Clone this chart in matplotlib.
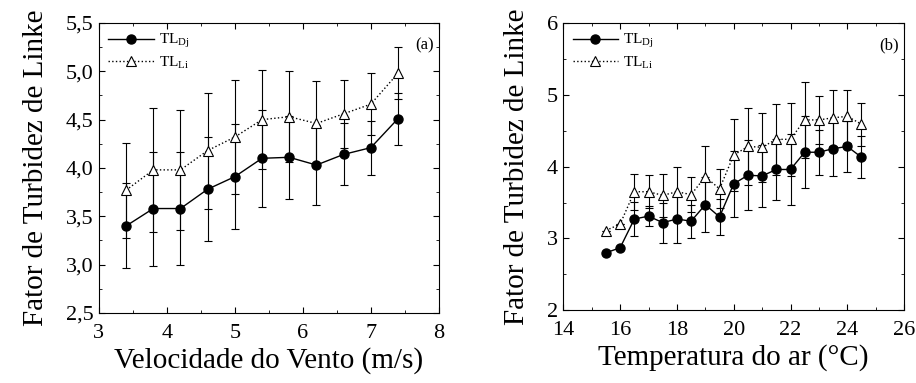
import numpy as np
import matplotlib.pyplot as plt
from matplotlib.ticker import MultipleLocator, FuncFormatter

plt.rcParams['font.family'] = ['Liberation Serif', 'DejaVu Serif']
plt.rcParams['mathtext.fontset'] = 'stix'

# (a) wind speed
vento = [3.4, 3.8, 4.2, 4.6, 5.0, 5.4, 5.8, 6.2, 6.6, 7.0, 7.4]
dj_a = [3.40, 3.58, 3.58, 3.78, 3.91, 4.10, 4.11, 4.03, 4.14, 4.21, 4.51]
dj_a_err = [0.44, 0.59, 0.58, 0.54, 0.54, 0.50, 0.43, 0.41, 0.32, 0.28, 0.27]
li_a = [3.77, 3.98, 3.98, 4.18, 4.32, 4.50, 4.53, 4.46, 4.56, 4.66, 4.98]
li_a_err = [0.49, 0.64, 0.62, 0.60, 0.59, 0.51, 0.47, 0.44, 0.35, 0.32, 0.27]

# (b) air temperature
temp = [15.5, 16.0, 16.5, 17.0, 17.5, 18.0, 18.5, 19.0, 19.5, 20.0,
        20.5, 21.0, 21.5, 22.0, 22.5, 23.0, 23.5, 24.0, 24.5]
dj_b = [2.80, 2.87, 3.27, 3.31, 3.22, 3.27, 3.24, 3.47, 3.30, 3.76,
        3.88, 3.87, 3.96, 3.96, 4.20, 4.20, 4.25, 4.28, 4.13]
dj_b_err = [0, 0, 0.24, 0.14, 0.28, 0.33, 0.23, 0.38, 0.25, 0.46,
            0.49, 0.43, 0.43, 0.49, 0.50, 0.31, 0.38, 0.35, 0.29]
li_b = [3.11, 3.20, 3.65, 3.65, 3.60, 3.65, 3.61, 3.86, 3.69, 4.16,
        4.28, 4.27, 4.38, 4.38, 4.65, 4.65, 4.68, 4.70, 4.59]
li_b_err = [0, 0, 0.25, 0.23, 0.30, 0.35, 0.24, 0.43, 0.27, 0.50,
            0.54, 0.48, 0.49, 0.51, 0.53, 0.33, 0.39, 0.37, 0.30]

ylabel = 'Fator de Turbidez de Linke'

fig = plt.figure(figsize=(9.16, 3.83), dpi=100)
ax1 = fig.add_axes([0.108, 0.183, 0.371, 0.757])
ax2 = fig.add_axes([0.615, 0.19, 0.372, 0.75])


def draw(ax, x, dj, dje, li, lie, tag):
    ax.errorbar(x, li, yerr=lie, fmt='none', ecolor='k', elinewidth=0.8,
                capsize=3, capthick=0.8)
    ax.errorbar(x, dj, yerr=dje, fmt='none', ecolor='k', elinewidth=0.8,
                capsize=3, capthick=0.8)
    ax.plot(x, dj, '-', color='k', lw=1, marker='o', ms=6.5,
            mfc='k', mec='k', label=r'TL$_{\mathregular{Dj}}$')
    ax.plot(x, li, ':', color='k', lw=1, marker='^', ms=7,
            mfc='white', mec='k', mew=0.8, label=r'TL$_{\mathregular{Li}}$')
    ax.legend(loc='upper left', frameon=False, fontsize=11, handlelength=3,
              borderaxespad=0.2, labelspacing=0.3, handletextpad=0.3)
    ax.text(0.985, 0.95, tag, transform=ax.transAxes, ha='right', va='top',
            fontsize=12)
    ax.tick_params(which='both', direction='in', top=True, right=True,
                   labelsize=16)
    ax.tick_params(axis='x', pad=8)
    ax.tick_params(axis='y', pad=4)
    ax.tick_params(which='major', length=4)
    ax.tick_params(which='minor', length=2.5)
    ax.set_ylabel(ylabel, fontsize=21, labelpad=12)


draw(ax1, vento, dj_a, dj_a_err, li_a, li_a_err, '(a)')
ax1.set_xlim(3, 8)
ax1.set_ylim(2.5, 5.5)
ax1.xaxis.set_major_locator(MultipleLocator(1))
ax1.xaxis.set_minor_locator(MultipleLocator(0.5))
ax1.yaxis.set_major_locator(MultipleLocator(0.5))
ax1.yaxis.set_minor_locator(MultipleLocator(0.25))
ax1.yaxis.set_major_formatter(FuncFormatter(lambda v, p: f'{v:.1f}'.replace('.', ',')))
ax1.set_xlabel('Velocidade do Vento (m/s)', fontsize=21, labelpad=3)

draw(ax2, temp, dj_b, dj_b_err, li_b, li_b_err, '(b)')
ax2.set_xlim(14, 26)
ax2.set_ylim(2, 6)
ax2.xaxis.set_major_locator(MultipleLocator(2))
ax2.xaxis.set_minor_locator(MultipleLocator(1))
ax2.yaxis.set_major_locator(MultipleLocator(1))
ax2.yaxis.set_minor_locator(MultipleLocator(0.5))
ax2.set_xlabel('Temperatura do ar (°C)', fontsize=21, labelpad=3)

fig.savefig('out.png', dpi=100)
